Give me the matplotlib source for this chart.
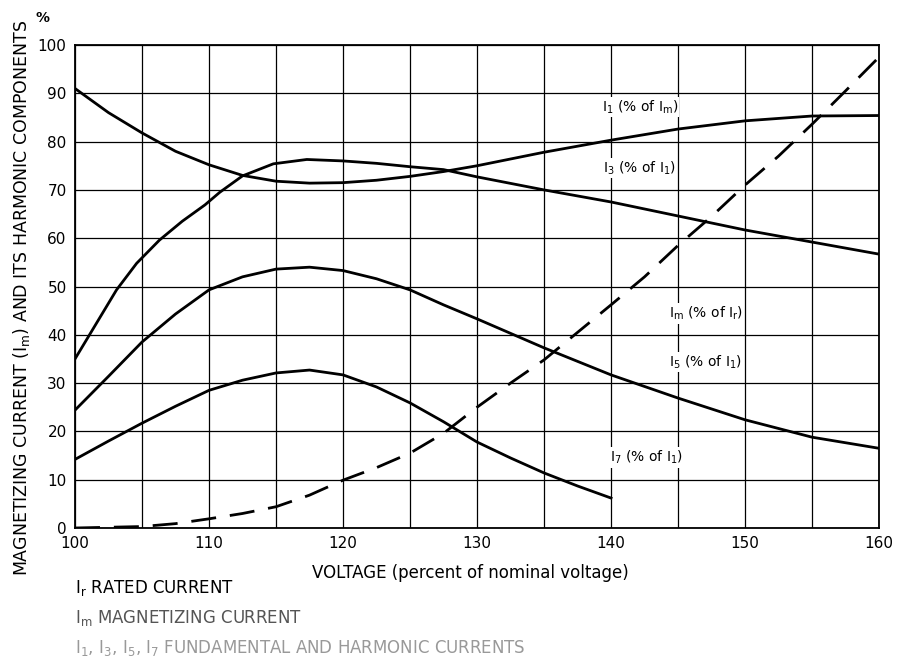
import matplotlib.pyplot as plt
import numpy as np

# values (voltage in % of nominal)
x_i1 = [100, 102.5, 105, 107.5, 110, 112.5, 115, 117.5, 120, 122.5, 125, 127.5,
        130, 135, 140, 145, 150, 155, 160]
i1 = [91, 86.0, 81.8, 78.0, 75.2, 73.0, 71.8, 71.4, 71.5, 72.0, 72.8, 73.8,
      75.0, 77.8, 80.3, 82.6, 84.3, 85.3, 85.4]

x_i3 = [100, 101.3, 103.1, 104.6, 106.3, 108, 109.7, 110.8, 112.5, 114.8, 117.3,
        120, 122.5, 125, 127.5, 130, 135, 140, 145, 150, 155, 160]
i3 = [35, 41, 49.3, 54.8, 59.6, 63.5, 66.9, 69.5, 72.9, 75.4, 76.3,
      76.0, 75.5, 74.8, 74.2, 72.7, 70.0, 67.5, 64.6, 61.7, 59.2, 56.7]

x_i5 = [100, 102.5, 105, 107.5, 110, 112.5, 115, 117.5, 120, 122.5, 125, 127.5,
        130, 135, 140, 145, 150, 155, 160]
i5 = [24.4, 31.4, 38.5, 44.3, 49.3, 52.0, 53.6, 54.0, 53.3, 51.6, 49.3, 46.2,
      43.3, 37.3, 31.7, 26.9, 22.4, 18.8, 16.5]

x_i7 = [100, 102.5, 105, 107.5, 110, 112.5, 115, 117.5, 120, 122.5, 125, 127.5,
        130, 132.5, 135, 137.5, 140]
i7 = [14.2, 18.0, 21.7, 25.2, 28.5, 30.6, 32.1, 32.7, 31.7, 29.2, 25.9, 22.0,
      17.8, 14.5, 11.4, 8.7, 6.2]

x_im = [100, 105, 107.5, 110, 112.5, 115, 117.5, 120, 122.5, 125, 127.5, 130,
        132.5, 135, 137.5, 140, 142.5, 145, 147.5, 150, 152.5, 155, 157.5, 160]
im = [0, 0.3, 0.9, 1.9, 3.0, 4.4, 6.8, 9.9, 12.5, 15.5, 19.6, 25.0,
      30.0, 34.8, 40.5, 46.2, 52.0, 58.5, 64.5, 71.0, 77.0, 83.6, 90.5, 97.5]

curve_labels = ["I$_1$ (% of I$_\\mathrm{m}$)", "I$_3$ (% of I$_1$)",
                "I$_\\mathrm{m}$ (% of I$_\\mathrm{r}$)", "I$_5$ (% of I$_1$)",
                "I$_7$ (% of I$_1$)"]
label_pos = [(139.3, 87.2), (139.4, 74.5), (144.3, 44.4), (144.3, 34.3), (139.9, 14.6)]

fig = plt.figure(figsize=(8.97, 6.59), dpi=100)
ax = fig.add_axes([0.0836, 0.1988, 0.8964, 0.7329])

ax.set_xlim(100, 160)
ax.set_ylim(0, 100)
ax.set_xticks(np.arange(100, 161, 10))
ax.set_xticks(np.arange(100, 161, 5), minor=True)
ax.set_yticks(np.arange(0, 101, 10))
ax.grid(True, which="both", color="black", linewidth=0.9)
ax.tick_params(which="both", length=0, labelsize=11, pad=6)
for s in ax.spines.values():
    s.set_linewidth(1.3)

lw = 2.0
ax.plot(x_i1, i1, color="black", lw=lw)
ax.plot(x_i3, i3, color="black", lw=lw)
ax.plot(x_i5, i5, color="black", lw=lw)
ax.plot(x_i7, i7, color="black", lw=lw)
ax.plot(x_im, im, color="black", lw=lw, dashes=(9, 5))

for txt, (xp, yp) in zip(curve_labels, label_pos):
    ax.text(xp, yp, txt, fontsize=10, va="center", ha="left",
            bbox=dict(facecolor="white", edgecolor="none", pad=1))

fig.text(0.024, 0.548, "MAGNETIZING CURRENT (I$_\\mathrm{m}$) AND ITS HARMONIC COMPONENTS",
         rotation=90, ha="center", va="center", fontsize=12.5)
fig.text(0.047, 0.972, "%", ha="center", va="center", fontsize=10, fontweight="bold")
fig.text(0.524, 0.131, "VOLTAGE (percent of nominal voltage)", ha="center",
         va="center", fontsize=12)

fig.text(0.084, 0.107, "I$_\\mathrm{r}$ RATED CURRENT", ha="left", va="center", fontsize=12)
fig.text(0.084, 0.062, "I$_\\mathrm{m}$ MAGNETIZING CURRENT", ha="left", va="center",
         fontsize=12, color="#555555")
fig.text(0.084, 0.017, "I$_1$, I$_3$, I$_5$, I$_7$ FUNDAMENTAL AND HARMONIC CURRENTS",
         ha="left", va="center", fontsize=12, color="#999999")

fig.savefig("out.png", dpi=100)
